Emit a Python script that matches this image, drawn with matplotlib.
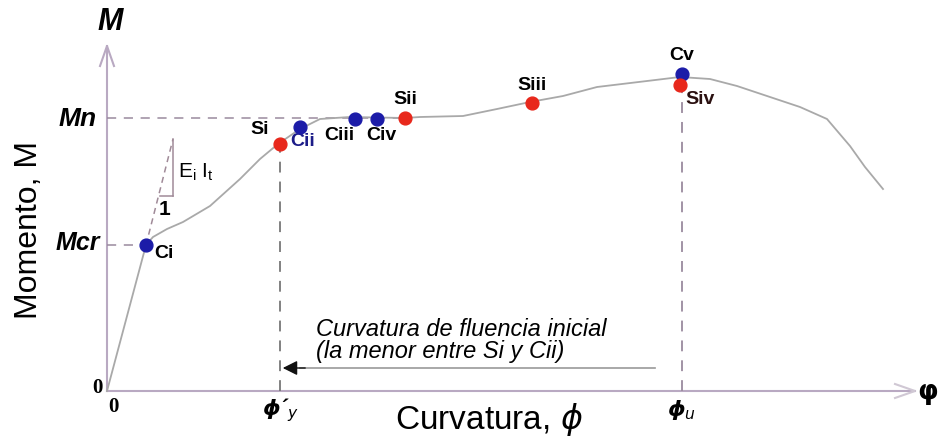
import numpy as np
import matplotlib.pyplot as plt
from matplotlib import rcParams
rcParams['font.family'] = ['Liberation Sans', 'DejaVu Sans']

# coordinates: curvature / moment in arbitrary units (origin at the axes corner)
# moment-curvature curve
curve_phi = [0, 39, 46, 60, 76, 103, 133, 153, 171, 193, 213, 243, 298, 313, 356, 390,
             423, 456, 490, 540, 573, 603, 630, 660, 693, 720, 743, 758, 776]
curve_m = [0, 146, 154, 162, 169, 185, 212, 232, 247, 262, 272, 274, 273, 274, 275, 282,
           289, 295, 304, 310, 314, 312, 305, 295, 284, 272, 245, 224, 202]

# points on the curve
c_names = ['Ci', 'Cii', 'Ciii', 'Civ', 'Cv']
c_phi = [39, 193, 248, 270, 575]
c_m = [146, 264, 272, 272, 317]
s_names = ['Si', 'Sii', 'Siii', 'Siv']
s_phi = [173, 298, 425, 573]
s_m = [247, 273, 288, 306]

m_cr = 146
m_n = 273
phi_y = 173
phi_u = 575

fig = plt.figure(figsize=(9.39, 4.39), dpi=100)
ax = fig.add_axes([0, 0, 1, 1])
ax.set_xlim(-107, 832)
ax.set_ylim(-47, 392)
ax.axis('off')

axc = '#b9a9c2'
dashc = '#9a8a9e'
# axes with arrows
ax.plot([0, 0], [0, 345], color=axc, lw=1.5)
ax.plot([-7, 0, 7], [325, 345, 325], color=axc, lw=1.5)
ax.plot([0, 808], [0, 0], color=axc, lw=1.5)
ax.plot([788, 808, 788], [7, 0, -7], color='#d0c8d4', lw=1.5)

# guide lines
ax.plot([0, 298], [m_n, m_n], ls=(0, (6, 5)), color=dashc, lw=1.1)
ax.plot([0, 39], [m_cr, m_cr], ls=(0, (6, 5)), color=dashc, lw=1.1)
ax.plot([phi_y, phi_y], [0, 247], ls=(0, (6, 5)), color='#777777', lw=1.3)
ax.plot([phi_u, phi_u], [0, 306], ls=(0, (6, 5)), color=dashc, lw=1.3)

# stiffness triangle
ax.plot([39, 66], [146, 252], ls=(0, (4, 3)), color='#a08a98', lw=1.1)
ax.plot([66, 66], [195, 252], color='#a08a98', lw=1.1)
ax.plot([53, 66], [195, 195], color='#a08a98', lw=1.1)
ax.text(71, 220, r'E$_\mathregular{i}$ I$_\mathregular{t}$', fontsize=15, ha='left', va='center')
ax.text(57, 182, '1', fontsize=15, fontweight='bold', ha='center', va='center')

# curve
ax.plot(curve_phi, curve_m, color='#a9a9a9', lw=1.3)

ax.scatter(c_phi, c_m, s=85, color='#1c1ca8', zorder=5)
ax.scatter(s_phi, s_m, s=85, color='#e8281c', zorder=5)

# point labels
lab = dict(fontsize=14, fontweight='bold', va='center')
ax.text(47, 138, 'Ci', ha='left', **lab)
ax.text(183, 251, 'Cii', ha='left', color='#1c1c88', **lab)
ax.text(217, 256, 'Ciii', ha='left', **lab)
ax.text(259, 256, 'Civ', ha='left', **lab)
ax.text(153, 262, 'Si', ha='center', **lab)
ax.text(298, 292, 'Sii', ha='center', **lab)
ax.text(425, 307, 'Siii', ha='center', **lab)
ax.text(575, 336, 'Cv', ha='center', **lab)
ax.text(578, 292, 'Siv', ha='left', color='#2a1010', **lab)

# axis labels
ax.text(3, 370, 'M', fontsize=22, fontweight='bold', fontstyle='italic', ha='center', va='center')
ax.text(-29, m_n, 'Mn', fontsize=19, fontweight='bold', fontstyle='italic', ha='center', va='center')
ax.text(-29, m_cr + 3, 'Mcr', fontsize=18, fontweight='bold', fontstyle='italic', ha='center', va='center')
ax.text(-10, 4, '0', fontsize=15, family='Liberation Serif', fontweight='bold', ha='center', va='center')
ax.text(6, -15, '0', fontsize=15, family='Liberation Serif', fontweight='bold', ha='center', va='center')
ax.text(phi_y, -18, r"$\boldsymbol{\phi}$´$_y$", fontsize=16, fontstyle='italic', fontweight='bold', ha='center', va='center')
ax.text(phi_u, -18, r"$\boldsymbol{\phi}_u$", fontsize=16, fontweight='bold', ha='center', va='center')
ax.text(382, -28, r'Curvatura, $\phi$', fontsize=24, ha='center', va='center')
ax.text(-78, 162, 'Momento, M', fontsize=23, rotation=90, ha='center', va='center')
ax.text(810, -3, r'$\boldsymbol{\varphi}$', fontsize=19, ha='left', va='center')

# yield curvature note
ax.plot([phi_y + 20, 548], [23, 23], color='#999999', lw=1.2)
ax.annotate('', xy=(phi_y, 23), xytext=(phi_y + 28, 23),
            arrowprops=dict(arrowstyle='-|>', color='#111111', lw=1.0,
                            mutation_scale=22))
ax.text(209, 63, 'Curvatura de fluencia inicial', fontsize=17, fontstyle='italic', ha='left', va='center')
ax.text(209, 40, '(la menor entre Si y Cii)', fontsize=17, fontstyle='italic', ha='left', va='center')

plt.savefig('out.png', dpi=100)
